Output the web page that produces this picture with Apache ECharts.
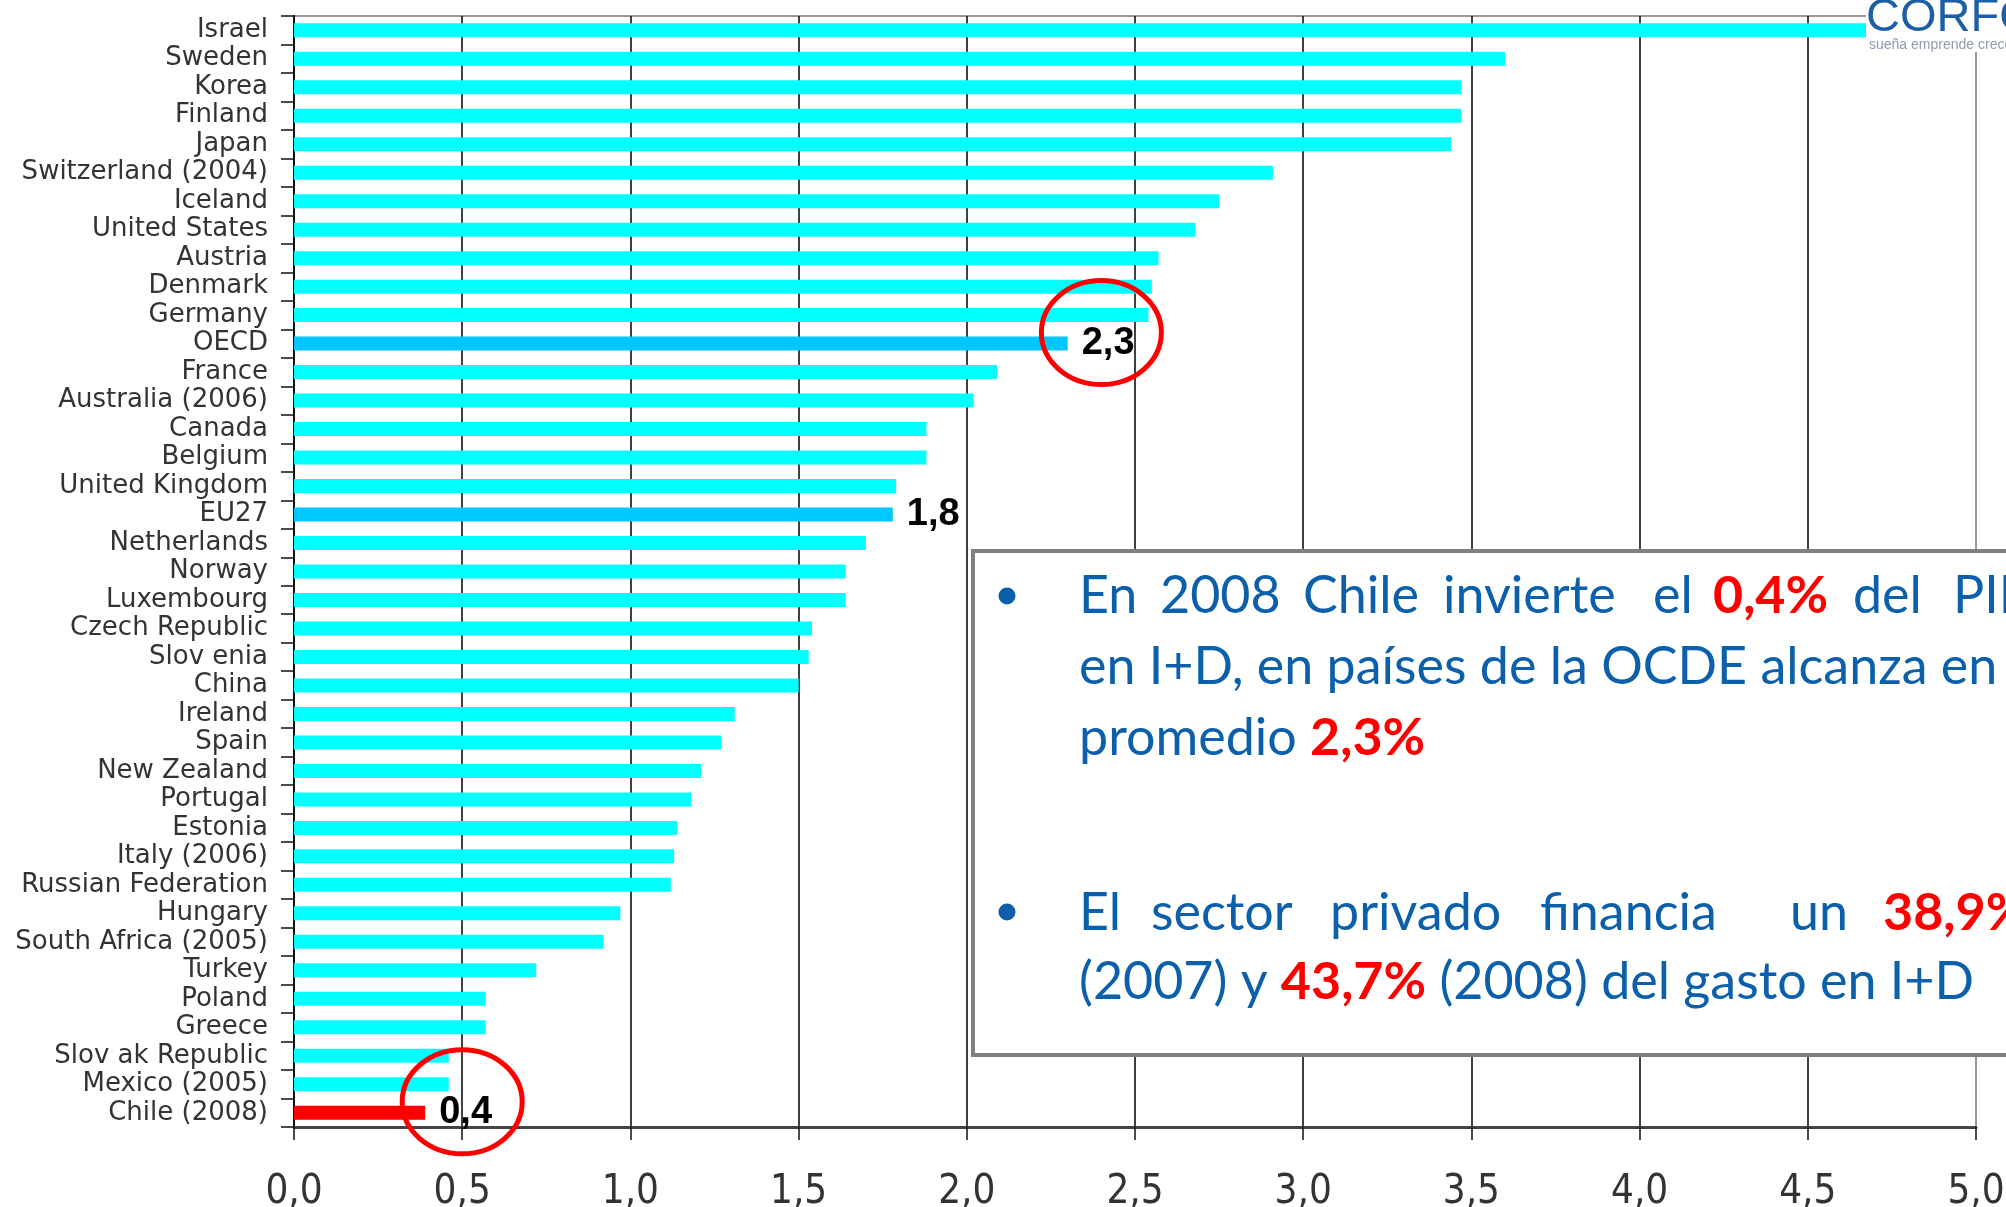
<!DOCTYPE html>
<html lang="es">
<head>
  <meta charset="UTF-8">
  <title>Gasto en I+D como % del PIB</title>
  <script src="https://cdn.jsdelivr.net/npm/echarts@6.0.0/dist/echarts.min.js"></script>
  <style>
    html, body { margin: 0; padding: 0; background: #fff; }
    #chart { width: 2006px; height: 1207px; }
  </style>
</head>
<body>
  <div id="chart"></div>

  <script>
    // paises (de arriba hacia abajo) y gasto en I+D (% del PIB)
    const countries = [
      'Israel', 'Sweden', 'Korea', 'Finland', 'Japan', 'Switzerland (2004)',
      'Iceland', 'United States', 'Austria', 'Denmark', 'Germany', 'OECD',
      'France', 'Australia (2006)', 'Canada', 'Belgium', 'United Kingdom', 'EU27',
      'Netherlands', 'Norway', 'Luxembourg', 'Czech Republic', 'Slov enia', 'China',
      'Ireland', 'Spain', 'New Zealand', 'Portugal', 'Estonia', 'Italy (2006)',
      'Russian Federation', 'Hungary', 'South Africa (2005)', 'Turkey', 'Poland',
      'Greece', 'Slov ak Republic', 'Mexico (2005)', 'Chile (2008)'
    ];
    const gerd = [
      4.70, 3.60, 3.47, 3.47, 3.44, 2.91,
      2.75, 2.68, 2.57, 2.55, 2.54, 2.30,
      2.09, 2.02, 1.88, 1.88, 1.79, 1.78,
      1.70, 1.64, 1.64, 1.54, 1.53, 1.50,
      1.31, 1.27, 1.21, 1.18, 1.14, 1.13,
      1.12, 0.97, 0.92, 0.72, 0.57,
      0.57, 0.46, 0.46, 0.39
    ];
    const xTickLabels = ['0,0', '0,5', '1,0', '1,5', '2,0', '2,5', '3,0', '3,5', '4,0', '4,5', '5,0'];
    const averages = ['OECD', 'EU27'];
    const home = 'Chile (2008)';
    const labeled = ['OECD', 'EU27', 'Chile (2008)'];
    // circulos rojos: [categoria, valor x del centro]
    const circled = [['OECD', 2.4], ['Chile (2008)', 0.5]];

    const chart = echarts.init(document.getElementById('chart'));

    function barColor(name) {
      if (name === home) return '#ff0000';
      if (averages.includes(name)) return '#00c8ff';
      return '#00ffff';
    }

    const gridColors = xTickLabels.map((t, i) => i === xTickLabels.length - 1 ? '#999999' : '#111111');

    const blue = '#0b5fab';
    const red = '#ff0000';
    const boxFont = 'Lato';
    const boxSize = 52;

    function word(text, x, y, isRed) {
      return {
        type: 'text', x: x, y: y, z: 60,
        style: {
          text: text, fill: isRed ? red : blue,
          fontSize: boxSize, fontFamily: boxFont, fontWeight: isRed ? 'bold' : 'normal',
          verticalAlign: 'middle', textVerticalAlign: 'middle'
        }
      };
    }

    const line1 = [['En', 1079], ['2008', 1160], ['Chile', 1303], ['invierte', 1443], ['el', 1653], ['0,4%', 1713, true], ['del', 1853], ['PIB', 1953]];
    const line4 = [['El', 1079], ['sector', 1151], ['privado', 1330], ['financia', 1540], ['un', 1790], ['38,9%', 1883, true]];
    const lineY = [596, 667, 738, 913, 982];

    const richStyles = {
      b: { fill: blue, fontSize: boxSize, fontFamily: boxFont },
      r: { fill: red, fontSize: boxSize, fontFamily: boxFont, fontWeight: 'bold' }
    };
    function richLine(text, y) {
      return {
        type: 'text', x: 1079, y: y, z: 60,
        style: { text: text, rich: richStyles, fontSize: boxSize, fontFamily: boxFont, fill: blue,
                 verticalAlign: 'middle', textVerticalAlign: 'middle' }
      };
    }

    const boxGraphics = [
      { type: 'rect', z: 50, shape: { x: 973, y: 551, width: 1100, height: 504 },
        style: { fill: '#ffffff', stroke: '#808080', lineWidth: 4 } },
      { type: 'circle', z: 60, shape: { cx: 1007, cy: 596, r: 8.5 }, style: { fill: blue } },
      { type: 'circle', z: 60, shape: { cx: 1007, cy: 912, r: 8.5 }, style: { fill: blue } }
    ]
      .concat(line1.map(w => word(w[0], w[1], lineY[0], w[2])))
      .concat([richLine('{b|en I+D, en países de la OCDE alcanza en}', lineY[1])])
      .concat([richLine('{b|promedio }{r|2,3%}', lineY[2])])
      .concat(line4.map(w => word(w[0], w[1], lineY[3], w[2])))
      .concat([richLine('{b|(2007) y }{r|43,7%}{b| (2008) del gasto en I+D}', lineY[4])]);

    const logoGraphics = [
      { type: 'rect', z: 70, shape: { x: 1866, y: 0, width: 140, height: 52 }, style: { fill: '#ffffff' } },
      { type: 'text', z: 71, x: 1866, y: -5,
        style: { text: 'CORFO', fill: '#1d5fa6', fontSize: 47, fontFamily: 'Liberation Sans',
                 verticalAlign: 'top', textVerticalAlign: 'top' } },
      { type: 'text', z: 71, x: 1869, y: 45,
        style: { text: 'sueña emprende crece', fill: '#8c9bb3', fontSize: 14, fontFamily: 'Liberation Sans',
                 verticalAlign: 'middle', textVerticalAlign: 'middle' } }
    ];

    const option = {
      backgroundColor: '#ffffff',
      animation: false,
      grid: {
        left: 294, right: 30, top: 16, bottom: 80,
        containLabel: false, outerBoundsMode: 'none',
        show: true, borderColor: '#999999', borderWidth: 2
      },
      xAxis: {
        type: 'value',
        min: 0, max: 5, interval: 0.5,
        axisLine: { show: true, lineStyle: { color: '#444444', width: 3 } },
        axisTick: { show: true, length: 13, lineStyle: { color: '#111111', width: 1.5 } },
        axisLabel: {
          margin: 46, fontSize: 40, color: '#333333',
          fontFamily: "'Liberation Sans Narrow', 'DejaVu Sans Condensed', sans-serif",
          formatter: v => xTickLabels[Math.round(v / 0.5)]
        },
        splitLine: { show: true, lineStyle: { color: gridColors, width: 1.6 } }
      },
      yAxis: {
        type: 'category',
        inverse: true,
        data: countries,
        axisLine: { show: true, lineStyle: { color: '#111111', width: 2 } },
        axisTick: { show: true, length: 13, interval: 0, lineStyle: { color: '#111111', width: 1.5 } },
        axisLabel: {
          interval: 0,
          margin: 26, fontSize: 26, color: '#333333', fontFamily: 'DejaVu Sans',
          padding: [0, 0, 9, 0]
        },
        splitLine: { show: false }
      },
      series: [{
        type: 'bar',
        barWidth: 14,
        data: countries.map((c, i) => ({
          value: gerd[i],
          itemStyle: { color: barColor(c) },
          label: { show: labeled.includes(c) }
        })),
        label: {
          position: 'right', distance: 14,
          fontSize: 38, fontWeight: 'bold', color: '#000000', fontFamily: 'Liberation Sans',
          formatter: p => p.value.toFixed(1).replace('.', ',')
        }
      }],
      graphic: boxGraphics.concat(logoGraphics)
    };

    chart.setOption(option);

    // circulos rojos alrededor de los valores destacados
    const rings = circled.map(c => {
      const pt = chart.convertToPixel({ gridIndex: 0 }, [c[1], c[0]]);
      return {
        type: 'ellipse', z: 80,
        shape: { cx: pt[0], cy: pt[1] - 11, rx: 60, ry: 52 },
        style: { fill: 'transparent', stroke: '#ff0000', lineWidth: 5 }
      };
    });
    chart.setOption({ graphic: boxGraphics.concat(logoGraphics).concat(rings) });
  </script>
</body>
</html>
